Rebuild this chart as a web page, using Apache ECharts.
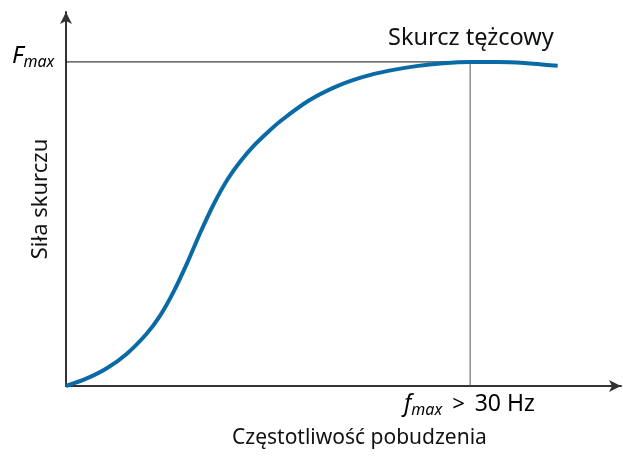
<!DOCTYPE html>
<html>
<head>
<meta charset="utf-8">
<script src="https://cdn.jsdelivr.net/npm/echarts@6/dist/echarts.min.js"></script>
<style>
  html, body { margin: 0; padding: 0; background: #fff; }
  #chart { width: 623px; height: 459px; }
</style>
</head>
<body>
<div id="chart"></div>
<script>
// stimulation frequency (Hz) vs contraction force (% of Fmax)
const freq = [0, 1.5, 3, 4.5, 6, 7, 8, 9, 10, 11, 12, 13, 14, 15, 16, 18, 20, 22, 24, 26, 28, 30, 32, 34, 36.5];
const force = [0, 2.25, 5.4, 9.9, 16.2, 21.8, 29.2, 38.0, 47.6, 56.4, 63.8, 69.6, 74.4, 78.4, 82.0, 88.0, 92.3, 95.3, 97.3, 98.7, 99.6, 100, 100, 99.7, 98.8];
const fMax = 30;
const forceMax = 100;

const font = 'Noto Sans';
const chart = echarts.init(document.getElementById('chart'));

const option = {
  animation: false,
  grid: { left: 66, right: 2, top: 12, bottom: 73 },
  xAxis: {
    type: 'value',
    min: 0,
    max: 41.2,
    axisLine: { lineStyle: { color: '#333', width: 2 }, symbol: ['none', 'arrow'], symbolSize: [9, 12] },
    axisTick: { show: false },
    axisLabel: { show: false },
    splitLine: { show: false }
  },
  yAxis: {
    type: 'value',
    min: 0,
    max: 115.4,
    axisLine: { show: true, lineStyle: { color: '#333', width: 2 }, symbol: ['none', 'arrow'], symbolSize: [9, 12] },
    axisTick: { show: false },
    axisLabel: { show: false },
    splitLine: { show: false },
    name: 'Siła skurczu',
    nameLocation: 'middle',
    nameGap: 14,
    nameTextStyle: { fontFamily: font, fontSize: 22, color: '#111' }
  },
  series: [
    {
      type: 'line',
      data: [[0, forceMax], [fMax, forceMax]],
      symbol: 'none',
      lineStyle: { color: '#111', width: 1 },
      z: 1
    },
    {
      type: 'line',
      data: [[fMax, forceMax], [fMax, 0]],
      symbol: 'none',
      lineStyle: { color: '#555', width: 1 },
      z: 1
    },
    {
      type: 'line',
      data: freq.map((f, i) => [f, force[i]]),
      smooth: 0.3,
      symbol: 'none',
      lineStyle: { color: '#0a6aa6', width: 4 },
      z: 3
    }
  ],
  graphic: [
    {
      type: 'text', left: 12, top: 44,
      style: {
        text: '{a|F}{b|max}',
        rich: {
          a: { fontFamily: font, fontStyle: 'italic', fontSize: 24, color: '#111' },
          b: { fontFamily: font, fontStyle: 'italic', fontSize: 16, color: '#111', padding: [12, 0, 0, 0] }
        }
      }
    },
    {
      type: 'text', left: 388, top: 26,
      style: { text: 'Skurcz tężcowy', fontFamily: font, fontSize: 23.5, fill: '#111' }
    },
    {
      type: 'text', left: 404, top: 393,
      style: {
        text: '{a|f}{b|max}{g|>}{c|30 Hz}',
        rich: {
          a: { fontFamily: font, fontStyle: 'italic', fontSize: 23, color: '#111' },
          b: { fontFamily: font, fontStyle: 'italic', fontSize: 16, color: '#111', padding: [12, 0, 0, 0] },
          g: { fontFamily: font, fontSize: 22, color: '#111', padding: [0, 10, 0, 10] },
          c: { fontFamily: font, fontSize: 23, color: '#111' }
        }
      }
    },
    {
      type: 'text', left: 232, top: 428,
      style: { text: 'Częstotliwość pobudzenia', fontFamily: font, fontSize: 21, fill: '#111' }
    }
  ]
};
chart.setOption(option);
</script>
</body>
</html>
